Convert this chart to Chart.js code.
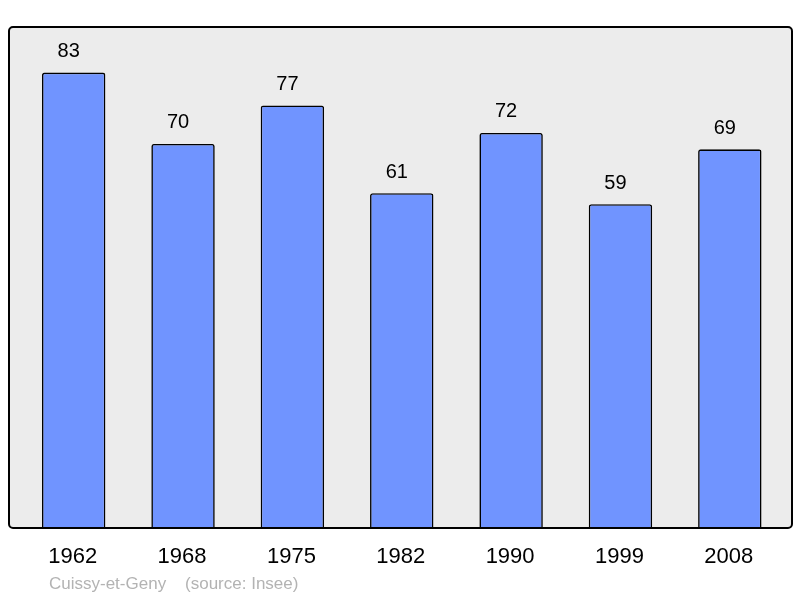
<!DOCTYPE html>
<html><head><meta charset="utf-8">
<script src="https://cdn.jsdelivr.net/npm/chart.js@4.4.1/dist/chart.umd.min.js"></script>
<style>html,body{margin:0;padding:0;background:#fff;}#wrap{width:800px;height:598px;position:relative;}</style>
</head><body><div id="wrap"><canvas id="c" width="800" height="598"></canvas></div>
<script>
const years = ["1962","1968","1975","1982","1990","1999","2008"];
const population = [83,70,77,61,72,59,69];
const footerText = "Cuissy-et-Geny    (source: Insee)";

const framePlugin = {
  id: 'frame',
  beforeDraw(chart){
    const ctx = chart.ctx;
    ctx.save();
    ctx.fillStyle = '#fff';
    ctx.fillRect(0,0,chart.width,chart.height);
    const x=9,y=27,w=783,h=501,r=4;
    ctx.beginPath();
    ctx.roundRect(x,y,w,h,r);
    ctx.fillStyle='#ececec';
    ctx.fill();
    ctx.restore();
  },
  afterDatasetsDraw(chart){
    const ctx = chart.ctx;
    ctx.save();
    const x=9,y=27,w=783,h=501,r=4;
    ctx.beginPath();
    ctx.roundRect(x,y,w,h,r);
    ctx.lineWidth=2;
    ctx.strokeStyle='#000';
    ctx.stroke();
    const xs = chart.scales.x, ys = chart.scales.y;
    ctx.fillStyle='#000';
    ctx.textAlign='center';
    ctx.textBaseline='middle';
    ctx.font='20px "Liberation Sans", Arial, sans-serif';
    population.forEach((v,i)=>{
      ctx.fillText(String(v), xs.getPixelForValue(i)-5, ys.getPixelForValue(v)-21);
    });
    ctx.font='22px "Liberation Sans", Arial, sans-serif';
    years.forEach((t,i)=>{
      ctx.fillText(t, xs.getPixelForValue(i)-1, 557);
    });
    ctx.textAlign='left';
    ctx.fillStyle='#b3b3b3';
    ctx.font='17px "Liberation Sans", Arial, sans-serif';
    ctx.fillText(footerText, 49, 584);
    ctx.restore();
  }
};

new Chart(document.getElementById('c'), {
  type:'bar',
  data:{labels:years, datasets:[{data:population, backgroundColor:'#7094ff', borderColor:'#000', borderWidth:1.6, borderRadius:2.5, borderSkipped:'bottom', barPercentage:0.58, categoryPercentage:1}]},
  options:{
    responsive:false, animation:false,
    layout:{padding:{left:19, right:15.5, top:27, bottom:70}},
    plugins:{legend:{display:false}, tooltip:{enabled:false}},
    scales:{
      x:{display:false},
      y:{display:false, min:0, max:91.3}
    }
  },
  plugins:[framePlugin]
});
</script></body></html>
